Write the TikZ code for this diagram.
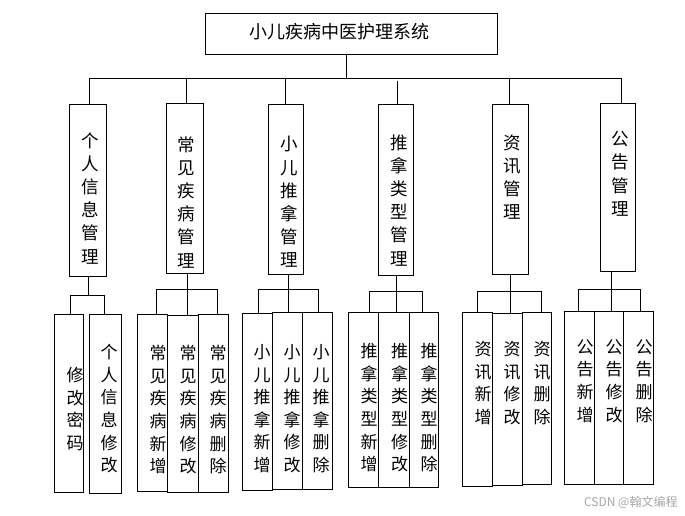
\documentclass[tikz,border=0pt]{standalone}
\usepackage{fontspec}
\newfontfamily\cjk{Noto Sans CJK SC}
\newcommand\mybox[5]{\node[box, minimum width={#4-#2}, minimum height={#5-#3}] (#1) at (#2,#3) {};}
\begin{document}
\begin{tikzpicture}[x=1pt,y=-1pt,line width=0.9pt,
  box/.style={draw, rectangle, inner sep=0pt, outer sep=0pt, anchor=north west},
  vtxt/.style={font=\cjk\fontsize{17.5}{23.2}\selectfont, align=center, anchor=north, inner sep=0pt},
  stxt/.style={font=\cjk\fontsize{17}{22.6}\selectfont, align=center, anchor=north, inner sep=0pt},
  conn/.style={draw, line width=0.9pt}]
\useasboundingbox (0,0) rectangle (685,516);
% top
\mybox{top}{205}{13}{497}{54}
\node[font=\cjk\fontsize{18}{22}\selectfont, inner sep=0pt] (toptxt) at (339,32) {小儿疾病中医护理系统};
% level 2 boxes
\mybox{b1}{69}{104}{106}{276}
\mybox{b2}{166}{103}{203}{273}
\mybox{b3}{268}{104}{303}{274}
\mybox{b4}{378}{104}{413}{275}
\mybox{b5}{492}{104}{528}{274}
\mybox{b6}{600}{103}{635}{271}
\node[vtxt] (t1) at (90,132) {个\\人\\信\\息\\管\\理};
\node[vtxt] (t2) at (186.5,136) {常\\见\\疾\\病\\管\\理};
\node[vtxt] (t3) at (289,136) {小\\儿\\推\\拿\\管\\理};
\node[vtxt] (t4) at (399,134) {推\\拿\\类\\型\\管\\理};
\node[vtxt] (t5) at (512,134) {资\\讯\\管\\理};
\node[vtxt] (t6) at (620,131) {公\\告\\管\\理};
% main bus
\coordinate (m0) at (346,78);
\coordinate (m1) at (89,78);
\coordinate (m2) at (186,78);
\coordinate (m3) at (285.5,78);
\coordinate (m4) at (397,81);
\coordinate (m5) at (509.5,78);
\coordinate (m6) at (621,78);
\draw[conn] (top.south -| m0) -- (m0);
\draw[conn] (b1.north -| m1) -- (m1) -- (m6) -- (b6.north -| m6);
\draw[conn] (m2) -- (b2.north -| m2);
\draw[conn] (m3) -- (b3.north -| m3);
\draw[conn] (m4) -- (b4.north -| m4);
\draw[conn] (m5) -- (b5.north -| m5);
% level 3 boxes
\mybox{c1a}{54}{314}{83}{492}
\mybox{c1b}{89}{314}{121}{493}
\mybox{c2a}{137}{314}{167}{491}
\mybox{c2b}{167}{315}{198}{492}
\mybox{c2c}{198}{314}{228}{492}
\mybox{c3a}{242}{313}{272}{490}
\mybox{c3b}{272}{312}{302}{489}
\mybox{c3c}{302}{312}{332}{489}
\mybox{c4a}{348}{312}{378}{487}
\mybox{c4b}{378}{312}{409}{487}
\mybox{c4c}{409}{312}{438}{487}
\mybox{c5a}{462}{312}{492}{486}
\mybox{c5b}{492}{313}{522}{485}
\mybox{c5c}{522}{312}{551}{484}
\mybox{c6a}{564}{311}{594}{484}
\mybox{c6b}{594}{311}{623}{484}
\mybox{c6c}{623}{311}{653}{484}
% level 3 texts
\node[stxt] (u1a) at (75,367) {修\\改\\密\\码};
\node[stxt] (u1b) at (109,344) {个\\人\\信\\息\\修\\改};
\node[stxt] (u2a) at (158,345) {常\\见\\疾\\病\\新\\增};
\node[stxt] (u2b) at (188,345) {常\\见\\疾\\病\\修\\改};
\node[stxt] (u2c) at (218,345) {常\\见\\疾\\病\\删\\除};
\node[stxt] (u3a) at (262,344) {小\\儿\\推\\拿\\新\\增};
\node[stxt] (u3b) at (292,344) {小\\儿\\推\\拿\\修\\改};
\node[stxt] (u3c) at (321,344) {小\\儿\\推\\拿\\删\\除};
\node[stxt] (u4a) at (369,343) {推\\拿\\类\\型\\新\\增};
\node[stxt] (u4b) at (399.5,343) {推\\拿\\类\\型\\修\\改};
\node[stxt] (u4c) at (429,343) {推\\拿\\类\\型\\删\\除};
\node[stxt] (u5a) at (483,341) {资\\讯\\新\\增};
\node[stxt] (u5b) at (512,341) {资\\讯\\修\\改};
\node[stxt] (u5c) at (542,341) {资\\讯\\删\\除};
\node[stxt] (u6a) at (585,339) {公\\告\\新\\增};
\node[stxt] (u6b) at (614,339) {公\\告\\修\\改};
\node[stxt] (u6c) at (644,339) {公\\告\\删\\除};
% sub buses
\coordinate (s1) at (88.3,295);  \coordinate (s1l) at (70,295);  \coordinate (s1r) at (104,295);
\draw[conn] (b1.south -| s1) -- (s1);
\draw[conn] (c1a.north -| s1l) -- (s1l) -- (s1r) -- (c1b.north -| s1r);
\coordinate (s2) at (187.3,289.3); \coordinate (s2l) at (156.7,289.3); \coordinate (s2r) at (217.3,289.3);
\draw[conn] (b2.south -| s2) -- (c2b.north -| s2);
\draw[conn] (c2a.north -| s2l) -- (s2l) -- (s2r) -- (c2c.north -| s2r);
\coordinate (s3) at (288.3,289.3); \coordinate (s3l) at (258.3,289.3); \coordinate (s3r) at (318.3,289.3);
\draw[conn] (b3.south -| s3) -- (c3b.north -| s3);
\draw[conn] (c3a.north -| s3l) -- (s3l) -- (s3r) -- (c3c.north -| s3r);
\coordinate (s4) at (396.7,291.7); \coordinate (s4l) at (369.3,291.7); \coordinate (s4r) at (422.7,291.7);
\draw[conn] (b4.south -| s4) -- (c4b.north -| s4);
\draw[conn] (c4a.north -| s4l) -- (s4l) -- (s4r) -- (c4c.north -| s4r);
\coordinate (s5) at (510.3,291.7); \coordinate (s5l) at (477.7,291.7); \coordinate (s5r) at (541,291.7);
\draw[conn] (b5.south -| s5) -- (c5b.north -| s5);
\draw[conn] (c5a.north -| s5l) -- (s5l) -- (s5r) -- (c5c.north -| s5r);
\coordinate (s6) at (611.3,289.3); \coordinate (s6l) at (578.3,289.3); \coordinate (s6r) at (640,289.3);
\draw[conn] (b6.south -| s6) -- (c6b.north -| s6);
\draw[conn] (c6a.north -| s6l) -- (s6l) -- (s6r) -- (c6c.north -| s6r);
% watermark
\node[font=\cjk\fontsize{12}{14}\selectfont, text=black!35, inner sep=0pt, anchor=east] (wm) at (678,502) {CSDN @翰文编程};
\end{tikzpicture}
\end{document}
